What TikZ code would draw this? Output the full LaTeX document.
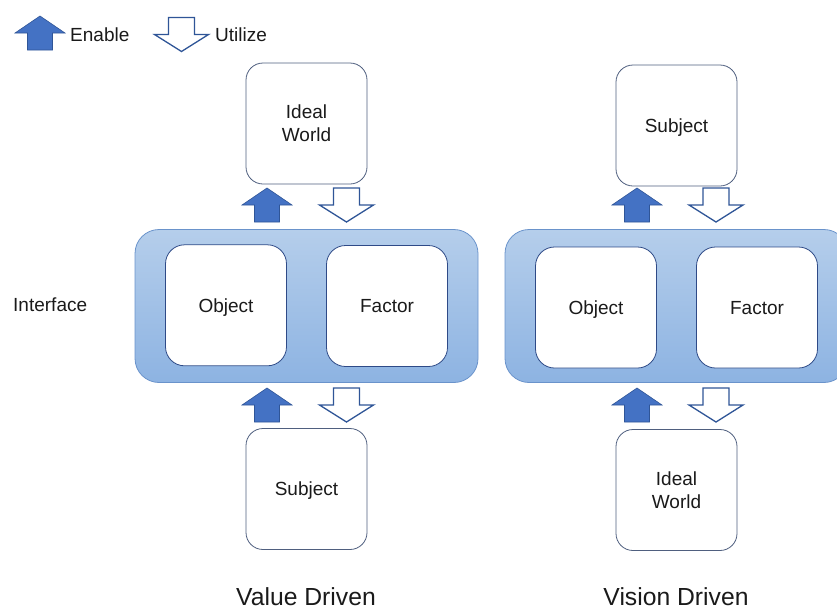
\documentclass[tikz,border=0pt]{standalone}
\usepackage{fontspec}
\setmainfont{Liberation Sans}
\definecolor{enablefill}{HTML}{4472C4}
\definecolor{arrowline}{HTML}{2F5597}
\definecolor{boxline}{HTML}{4F5F7F}
\definecolor{innerline}{HTML}{2E4A87}
\definecolor{ifacetop}{HTML}{B5CEEB}
\definecolor{ifacebot}{HTML}{8DB3E2}
\definecolor{ifaceline}{HTML}{6A93CB}
\definecolor{txt}{HTML}{1A1A1A}
\begin{document}
\begin{tikzpicture}[x=1pt,y=-1pt,
  box/.style={draw=boxline, line width=0.8pt, fill=white, rounded corners=17pt,
    minimum width=121pt, minimum height=121pt, inner sep=0pt, align=center,
    text=txt, font=\fontsize{19}{23.3}\selectfont},
  innerbox/.style={box, draw=innerline, rounded corners=19pt},
  oneline/.style={text height=13.6pt, text depth=0pt},
  iface/.style={draw=ifaceline, line width=0.8pt, rounded corners=24pt,
    top color=ifacetop, bottom color=ifacebot,
    minimum width=343pt, minimum height=153pt, inner sep=0pt},
  plain/.style={text=txt, font=\fontsize{19}{23}\selectfont, inner sep=0pt, oneline},
  title/.style={text=txt, font=\fontsize{24.7}{28}\selectfont, inner sep=0pt},
  pics/enablearrow/.style={code={
    \draw[draw=arrowline, fill=enablefill, line width=0.6pt, line join=miter]
      (-25,0) -- (0,-17) -- (25,0) -- (12.5,0) -- (12.5,17) -- (-12.5,17) -- (-12.5,0) -- cycle;}},
  pics/utilizearrow/.style={code={
    \draw[draw=arrowline, fill=white, line width=1.3pt, line join=miter]
      (-13,-17) -- (13,-17) -- (13,0) -- (27,0) -- (0,17) -- (-27,0) -- (-13,0) -- cycle;}}
]
\path[use as bounding box] (0,0) rectangle (837,608);
\clip (0,0) rectangle (837,608);

% legend
\pic at (40,33) {enablearrow};
\node[plain, anchor=west] (lgenable) at (70,35) {Enable};
\pic at (181.5,34.5) {utilizearrow};
\node[plain, anchor=west] (lgutilize) at (215,35) {Utilize};

\node[plain, anchor=west] (ifacelabel) at (13,305) {Interface};

% value driven column
\node[box] (vtop) at (306.5,123.5) {Ideal\\World};
\node[iface] (viface) at (306.5,306) {};
\node[innerbox, oneline] (vobj) at (226,305.3) {Object};
\node[innerbox, oneline] (vfac) at (387,306) {Factor};
\node[box, oneline] (vbot) at (306.5,489) {Subject};
\pic at (267,205) {enablearrow};
\pic at (346.5,205) {utilizearrow};
\pic at (267,405) {enablearrow};
\pic at (346.5,405) {utilizearrow};
\node[title, anchor=base] (vtitle) at (306,605) {Value Driven};

% vision driven column
\node[box, oneline] (ntop) at (676.5,125.5) {Subject};
\node[iface] (niface) at (676.5,306) {};
\node[innerbox, oneline] (nobj) at (596,307.5) {Object};
\node[innerbox, oneline] (nfac) at (757,307.5) {Factor};
\node[box] (nbot) at (676.5,490) {Ideal\\World};
\pic at (637,205) {enablearrow};
\pic at (716,205) {utilizearrow};
\pic at (637,405) {enablearrow};
\pic at (716,405) {utilizearrow};
\node[title, anchor=base] (ntitle) at (676,605) {Vision Driven};
\end{tikzpicture}
\end{document}
